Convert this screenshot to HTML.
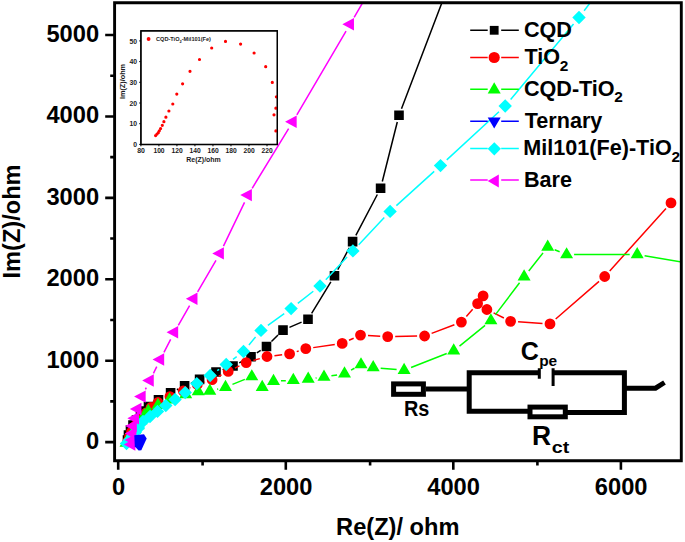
<!DOCTYPE html><html><head><meta charset="utf-8"><style>html,body{margin:0;padding:0;background:#fff;}svg{display:block;}text{font-family:"Liberation Sans",sans-serif;font-weight:bold;}</style></head><body>
<svg width="685" height="542" viewBox="0 0 685 542">
<rect width="685" height="542" fill="#fff"/>
<defs><clipPath id="pc"><rect x="116" y="4" width="564" height="456"/></clipPath></defs>
<g clip-path="url(#pc)">
<path d="M176.88 389.71L178.32 388.99M191.02 383.12L193.18 382.18M205.98 376.52L209.62 374.88M222.6 369.67L226.4 368.33M239.23 362.81L244.77 359.99M256.83 352.93L260.67 350.37M271.46 341.57L278.04 335.03M289.43 327.32L301.57 322.08M311.64 313.32L330.86 281.78M337.77 269.61L349.33 247.79M355.86 235.4L377.34 194.5M382.31 181.51L397.29 121.99M401.49 108.66L441.8 3" stroke="#000" stroke-width="1.5" fill="none"/>
<path d="M122.7 435.2h9.6v9.6h-9.6zM123.7 430.2h9.6v9.6h-9.6zM125.7 425.2h9.6v9.6h-9.6zM128.2 420.2h9.6v9.6h-9.6zM131.7 415.2h9.6v9.6h-9.6zM135.7 410.7h9.6v9.6h-9.6zM139.7 406.2h9.6v9.6h-9.6zM143.7 401.8h9.6v9.6h-9.6zM153.7 394.9h9.6v9.6h-9.6zM165.8 388h9.6v9.6h-9.6zM179.8 381.1h9.6v9.6h-9.6zM194.8 374.6h9.6v9.6h-9.6zM211.2 367.2h9.6v9.6h-9.6zM228.2 361.2h9.6v9.6h-9.6zM246.2 352h9.6v9.6h-9.6zM261.7 341.7h9.6v9.6h-9.6zM278.2 325.3h9.6v9.6h-9.6zM303.2 314.5h9.6v9.6h-9.6zM329.7 271h9.6v9.6h-9.6zM347.8 236.8h9.6v9.6h-9.6zM375.8 183.5h9.6v9.6h-9.6zM394.2 110.4h9.6v9.6h-9.6z" fill="#000"/>
<path d="M190.01 387.86L190.49 387.64M204.43 382.19L204.97 382.01M218.77 376.26L221.53 374.84M234.94 368.11L239.46 365.89M253.4 360.49L259.8 358.61M274.45 355.64L282.15 354.76M296.74 351.61L298.66 350.99M313.22 347.62L334.78 344.48M349.03 340.3L353.67 338.2M367.99 335.51L380.21 336.19M395.2 336.48L417.1 336.12M431.62 333.35L454.38 324.75M466.34 316.46L472.66 309.24M493.61 312.84L503.89 317.96M518.08 321.79L542.52 323.41M555.67 318.99L599.03 281.41M609.72 270.93L665.98 208.47" stroke="#f00" stroke-width="1.5" fill="none"/>
<path d="M122.6 441a5.4 5.4 0 1 0 10.8 0a5.4 5.4 0 1 0 -10.8 0zM124.1 436.5a5.4 5.4 0 1 0 10.8 0a5.4 5.4 0 1 0 -10.8 0zM126.1 432a5.4 5.4 0 1 0 10.8 0a5.4 5.4 0 1 0 -10.8 0zM128.6 427a5.4 5.4 0 1 0 10.8 0a5.4 5.4 0 1 0 -10.8 0zM132.1 422.5a5.4 5.4 0 1 0 10.8 0a5.4 5.4 0 1 0 -10.8 0zM136.1 418a5.4 5.4 0 1 0 10.8 0a5.4 5.4 0 1 0 -10.8 0zM140.6 413a5.4 5.4 0 1 0 10.8 0a5.4 5.4 0 1 0 -10.8 0zM145.6 407.5a5.4 5.4 0 1 0 10.8 0a5.4 5.4 0 1 0 -10.8 0zM152.6 402.5a5.4 5.4 0 1 0 10.8 0a5.4 5.4 0 1 0 -10.8 0zM164.5 396.6a5.4 5.4 0 1 0 10.8 0a5.4 5.4 0 1 0 -10.8 0zM177.8 391a5.4 5.4 0 1 0 10.8 0a5.4 5.4 0 1 0 -10.8 0zM191.9 384.5a5.4 5.4 0 1 0 10.8 0a5.4 5.4 0 1 0 -10.8 0zM206.7 379.7a5.4 5.4 0 1 0 10.8 0a5.4 5.4 0 1 0 -10.8 0zM222.8 371.4a5.4 5.4 0 1 0 10.8 0a5.4 5.4 0 1 0 -10.8 0zM240.8 362.6a5.4 5.4 0 1 0 10.8 0a5.4 5.4 0 1 0 -10.8 0zM261.6 356.5a5.4 5.4 0 1 0 10.8 0a5.4 5.4 0 1 0 -10.8 0zM284.2 353.9a5.4 5.4 0 1 0 10.8 0a5.4 5.4 0 1 0 -10.8 0zM300.4 348.7a5.4 5.4 0 1 0 10.8 0a5.4 5.4 0 1 0 -10.8 0zM336.8 343.4a5.4 5.4 0 1 0 10.8 0a5.4 5.4 0 1 0 -10.8 0zM355.1 335.1a5.4 5.4 0 1 0 10.8 0a5.4 5.4 0 1 0 -10.8 0zM382.3 336.6a5.4 5.4 0 1 0 10.8 0a5.4 5.4 0 1 0 -10.8 0zM419.2 336a5.4 5.4 0 1 0 10.8 0a5.4 5.4 0 1 0 -10.8 0zM456 322.1a5.4 5.4 0 1 0 10.8 0a5.4 5.4 0 1 0 -10.8 0zM472.2 303.6a5.4 5.4 0 1 0 10.8 0a5.4 5.4 0 1 0 -10.8 0zM477.7 295.9a5.4 5.4 0 1 0 10.8 0a5.4 5.4 0 1 0 -10.8 0zM481.5 309.5a5.4 5.4 0 1 0 10.8 0a5.4 5.4 0 1 0 -10.8 0zM505.2 321.3a5.4 5.4 0 1 0 10.8 0a5.4 5.4 0 1 0 -10.8 0zM544.6 323.9a5.4 5.4 0 1 0 10.8 0a5.4 5.4 0 1 0 -10.8 0zM599.3 276.5a5.4 5.4 0 1 0 10.8 0a5.4 5.4 0 1 0 -10.8 0zM665.6 202.9a5.4 5.4 0 1 0 10.8 0a5.4 5.4 0 1 0 -10.8 0z" fill="#f00"/>
<path d="M176.64 397.41L178.56 396.79M217.1 389.18L218.2 388.92M232.46 384.4L244.84 379.4M280.99 380.86L285.81 380.64M315.64 378.06L316.56 377.94M331.41 375.84L337.09 374.96M351.05 370.15L354.45 368.25M380.67 368.15L396.63 369.55M411.08 367.47L446.72 353.53M459.52 346.07L485.08 325.33M495.43 314.62L519.57 282.78M528.76 270.92L543.04 252.88M554.66 249.8L559.64 251.8M574.1 254.59L629.7 254.51M644.59 255.75L681.5 262" stroke="#0f0" stroke-width="1.5" fill="none"/>
<path d="M126 435.53L119.5 446.73L132.5 446.73zM128 432.03L121.5 443.23L134.5 443.23zM131 427.53L124.5 438.73L137.5 438.73zM134.5 422.53L128 433.73L141 433.73zM138 418.03L131.5 429.23L144.5 429.23zM141 413.03L134.5 424.23L147.5 424.23zM144.4 408.03L137.9 419.23L150.9 419.23zM148.3 403.73L141.8 414.93L154.8 414.93zM158 397.73L151.5 408.93L164.5 408.93zM169.5 392.23L163 403.43L176 403.43zM185.7 387.03L179.2 398.23L192.2 398.23zM198.2 384.03L191.7 395.23L204.7 395.23zM209.8 383.43L203.3 394.63L216.3 394.63zM225.5 379.73L219 390.93L232 390.93zM251.8 369.13L245.3 380.33L258.3 380.33zM262.2 379.73L255.7 390.93L268.7 390.93zM273.5 373.73L267 384.93L280 384.93zM293.3 372.83L286.8 384.03L299.8 384.03zM308.2 371.53L301.7 382.73L314.7 382.73zM324 369.53L317.5 380.73L330.5 380.73zM344.5 366.33L338 377.53L351 377.53zM361 357.13L354.5 368.33L367.5 368.33zM373.2 360.03L366.7 371.23L379.7 371.23zM404.1 362.73L397.6 373.93L410.6 373.93zM453.7 343.33L447.2 354.53L460.2 354.53zM490.9 313.13L484.4 324.33L497.4 324.33zM524.1 269.33L517.6 280.53L530.6 280.53zM547.7 239.53L541.2 250.73L554.2 250.73zM566.6 247.13L560.1 258.33L573.1 258.33zM637.2 247.03L630.7 258.23L643.7 258.23z" fill="#0f0"/>
<path d="M217.2 370.68L219.2 369.32M233 359.39L236.7 356.61M248.93 344.96L255.57 336.94M267.88 325.41L284.22 313.59M297.8 303.36L313.3 291.24M325.81 279.8L347.09 257.1M358.73 244.71L384.27 217.59M396.39 205.68L434.21 171.32M446.75 159.84L498.95 111.76M510.64 99.47L573.56 24.03M584.14 10.73L590 3" stroke="#0ff" stroke-width="1.5" fill="none"/>
<path d="M126.5 436.8L133.2 443.5L126.5 450.2L119.8 443.5zM129.5 433.3L136.2 440L129.5 446.7L122.8 440zM132.5 429.3L139.2 436L132.5 442.7L125.8 436zM135.5 425.3L142.2 432L135.5 438.7L128.8 432zM138.5 421.3L145.2 428L138.5 434.7L131.8 428zM143 414.8L149.7 421.5L143 428.2L136.3 421.5zM150 409.8L156.7 416.5L150 423.2L143.3 416.5zM157.5 404.7L164.2 411.4L157.5 418.1L150.8 411.4zM165.8 398.9L172.5 405.6L165.8 412.3L159.1 405.6zM175.1 392.8L181.8 399.5L175.1 406.2L168.4 399.5zM185.2 385.9L191.9 392.6L185.2 399.3L178.5 392.6zM196.8 376.9L203.5 383.6L196.8 390.3L190.1 383.6zM210.2 368.8L216.9 375.5L210.2 382.2L203.5 375.5zM226.2 357.8L232.9 364.5L226.2 371.2L219.5 364.5zM243.5 344.8L250.2 351.5L243.5 358.2L236.8 351.5zM261 323.7L267.7 330.4L261 337.1L254.3 330.4zM291.1 301.9L297.8 308.6L291.1 315.3L284.4 308.6zM320 279.3L326.7 286L320 292.7L313.3 286zM352.9 244.2L359.6 250.9L352.9 257.6L346.2 250.9zM390.1 204.7L396.8 211.4L390.1 218.1L383.4 211.4zM440.5 158.9L447.2 165.6L440.5 172.3L433.8 165.6zM505.2 99.3L511.9 106L505.2 112.7L498.5 106zM579 10.8L585.7 17.5L579 24.2L572.3 17.5z" fill="#0ff"/>
<path d="M145.4 389.45L146.3 387.65M153.45 373.33L156.75 366.67M163.95 352.38L170.65 339.32M178.3 325.27L189.6 305.73M197.62 291.88L215.98 260.32M223.46 246.19L244.54 202.31M252.17 188.27L288.63 128.63M296.85 114.9L346.05 31.1M354.14 17.29L362.5 3" stroke="#f0f" stroke-width="1.5" fill="none"/>
<path d="M123.77 444.5L135.37 438.3L135.37 450.7zM124.57 440L136.17 433.8L136.17 446.2zM124.77 433.5L136.37 427.3L136.37 439.7zM125.27 426L136.87 419.8L136.87 432.2zM127.37 418.2L138.97 412L138.97 424.4zM129.87 409L141.47 402.8L141.47 415.2zM134.07 396.6L145.67 390.4L145.67 402.8zM142.17 380.5L153.77 374.3L153.77 386.7zM152.57 359.5L164.17 353.3L164.17 365.7zM166.57 332.2L178.17 326L178.17 338.4zM185.87 298.8L197.47 292.6L197.47 305zM212.27 253.4L223.87 247.2L223.87 259.6zM240.27 195.1L251.87 188.9L251.87 201.3zM285.07 121.8L296.67 115.6L296.67 128zM342.37 24.2L353.97 18L353.97 30.4z" fill="#f0f"/>
<path d="M134.3 435.2L144 434.3L146.7 438.6L141.3 450.2L138.6 450.6L134.8 446.5Z" fill="#00f"/>
</g>
<path d="M114.6 2.7H681.3V460.7H114.6Z" fill="none" stroke="#000" stroke-width="2.9"/>
<path d="M105.2 442.1H114M105.2 360.7H114M105.2 279.3H114M105.2 197.9H114M105.2 116.5H114M105.2 35H114M110.2 401.39H114M110.2 319.97H114M110.2 238.55H114M110.2 157.13H114M110.2 75.71H114M118.2 461V469.8M285.8 461V469.8M453.3 461V469.8M620.9 461V469.8M202.6 461V465.6M370.1 461V465.6M537.4 461V465.6" stroke="#000" stroke-width="2.6" fill="none"/>
<text x="99.1" y="449" font-size="23.7" text-anchor="end">0</text>
<text x="99.1" y="367.6" font-size="23.7" text-anchor="end">1000</text>
<text x="99.1" y="286.2" font-size="23.7" text-anchor="end">2000</text>
<text x="99.1" y="204.8" font-size="23.7" text-anchor="end">3000</text>
<text x="99.1" y="123.4" font-size="23.7" text-anchor="end">4000</text>
<text x="99.1" y="41.9" font-size="23.7" text-anchor="end">5000</text>
<text x="118.5" y="494.95" font-size="23.7" text-anchor="middle">0</text>
<text x="286.1" y="494.95" font-size="23.7" text-anchor="middle">2000</text>
<text x="453.6" y="494.95" font-size="23.7" text-anchor="middle">4000</text>
<text x="621.2" y="494.95" font-size="23.7" text-anchor="middle">6000</text>
<text x="336.1" y="535.3" font-size="23.6" textLength="123.4" lengthAdjust="spacingAndGlyphs">Re(Z)/ ohm</text>
<text transform="translate(19.5 278.5) rotate(-90)" font-size="23.6">Im(Z)/ohm</text>
<path d="M470.2 30.3H487.7M501.2 30.3H518.8" stroke="#000" stroke-width="1.5"/>
<path d="M489.8 25.9h8.8v8.8h-8.8z" fill="#000"/>
<path d="M470.2 57.5H487.7M501.2 57.5H518.8" stroke="#f00" stroke-width="1.5"/>
<path d="M488.6 57.5a5.6 5.6 0 1 0 11.2 0a5.6 5.6 0 1 0 -11.2 0z" fill="#f00"/>
<path d="M470.2 89.2H487.7M501.2 89.2H518.8" stroke="#0f0" stroke-width="1.5"/>
<path d="M494.2 82.2L487.7 93.6L500.7 93.6z" fill="#0f0"/>
<path d="M470.2 121.2H487.7M501.2 121.2H518.8" stroke="#00f" stroke-width="1.5"/>
<path d="M494.2 128.53L487.7 117.53L500.7 117.53z" fill="#00f"/>
<path d="M470.2 148.5H487.7M501.2 148.5H518.8" stroke="#0ff" stroke-width="1.5"/>
<path d="M494.3 142.15L500.95 148.8L494.3 155.45L487.65 148.8z" fill="#0ff"/>
<path d="M470.2 180.1H487.7M501.2 180.1H518.8" stroke="#f0f" stroke-width="1.5"/>
<path d="M487.7 181.1L498.8 174.6L498.8 187.6z" fill="#f0f"/>
<text x="523.9" y="37.1" font-size="21.6">CQD</text>
<text x="524.5" y="64.4" font-size="21.6">TiO</text>
<text x="559.7" y="70.5" font-size="15.4">2</text>
<text x="523.9" y="96.4" font-size="21.6">CQD-TiO</text>
<text x="614.3" y="101.9" font-size="15.4">2</text>
<text x="524.7" y="127.8" font-size="21.6">Ternary</text>
<text x="523.3" y="154.7" font-size="21.6">Mil101(Fe)-TiO</text>
<text x="671.4" y="161.6" font-size="15.4">2</text>
<text x="523.9" y="186.8" font-size="21.6">Bare</text>
<rect x="140.9" y="30.85" width="136.45" height="113.65" fill="#fff" stroke="#000" stroke-width="1.3"/>
<path d="M139.2 144.4H140.9M139.2 123.7H140.9M139.2 103H140.9M139.2 82.3H140.9M139.2 61.6H140.9M139.2 40.9H140.9M140.9 144.5V146.3M158.91 144.5V146.3M176.93 144.5V146.3M194.94 144.5V146.3M212.96 144.5V146.3M230.97 144.5V146.3M248.98 144.5V146.3M267 144.5V146.3" stroke="#000" stroke-width="1"/>
<text x="137.1" y="147" font-size="7.4" fill="#1a1a22" text-anchor="end" textLength="3.8" lengthAdjust="spacingAndGlyphs">0</text>
<text x="137.1" y="126.3" font-size="7.4" fill="#1a1a22" text-anchor="end" textLength="7.6" lengthAdjust="spacingAndGlyphs">10</text>
<text x="137.1" y="105.6" font-size="7.4" fill="#1a1a22" text-anchor="end" textLength="7.6" lengthAdjust="spacingAndGlyphs">20</text>
<text x="137.1" y="84.9" font-size="7.4" fill="#1a1a22" text-anchor="end" textLength="7.6" lengthAdjust="spacingAndGlyphs">30</text>
<text x="137.1" y="64.2" font-size="7.4" fill="#1a1a22" text-anchor="end" textLength="7.6" lengthAdjust="spacingAndGlyphs">40</text>
<text x="137.1" y="43.5" font-size="7.4" fill="#1a1a22" text-anchor="end" textLength="7.6" lengthAdjust="spacingAndGlyphs">50</text>
<text x="141" y="153" font-size="7.5" fill="#1a1a22" text-anchor="middle" textLength="7.7" lengthAdjust="spacingAndGlyphs">80</text>
<text x="159.01" y="153" font-size="7.5" fill="#1a1a22" text-anchor="middle" textLength="11.2" lengthAdjust="spacingAndGlyphs">100</text>
<text x="177.03" y="153" font-size="7.5" fill="#1a1a22" text-anchor="middle" textLength="11.2" lengthAdjust="spacingAndGlyphs">120</text>
<text x="195.04" y="153" font-size="7.5" fill="#1a1a22" text-anchor="middle" textLength="11.2" lengthAdjust="spacingAndGlyphs">140</text>
<text x="213.06" y="153" font-size="7.5" fill="#1a1a22" text-anchor="middle" textLength="11.2" lengthAdjust="spacingAndGlyphs">160</text>
<text x="231.07" y="153" font-size="7.5" fill="#1a1a22" text-anchor="middle" textLength="11.2" lengthAdjust="spacingAndGlyphs">180</text>
<text x="249.08" y="153" font-size="7.5" fill="#1a1a22" text-anchor="middle" textLength="11.2" lengthAdjust="spacingAndGlyphs">200</text>
<text x="267.1" y="153" font-size="7.5" fill="#1a1a22" text-anchor="middle" textLength="11.2" lengthAdjust="spacingAndGlyphs">220</text>
<text x="186.3" y="162.4" font-size="7.6" fill="#1a1a22" textLength="34.5" lengthAdjust="spacingAndGlyphs">Re(Z)/ohm</text>
<text transform="translate(125.4 99) rotate(-90)" font-size="7.4" fill="#1a1a22" textLength="35" lengthAdjust="spacingAndGlyphs">Im(Z)/ohm</text>
<circle cx="148.6" cy="39" r="1.9" fill="#f00"/>
<text x="156" y="41.2" font-size="5.6" fill="#222">CQD-TiO<tspan font-size="4" dy="1.5">2</tspan><tspan dy="-1.5">-Mil101(Fe)</tspan></text>
<path d="M154 135.6a1.6 1.6 0 1 0 3.2 0a1.6 1.6 0 1 0 -3.2 0zM155.4 134.1a1.6 1.6 0 1 0 3.2 0a1.6 1.6 0 1 0 -3.2 0zM156.7 132.7a1.6 1.6 0 1 0 3.2 0a1.6 1.6 0 1 0 -3.2 0zM157.7 130.8a1.6 1.6 0 1 0 3.2 0a1.6 1.6 0 1 0 -3.2 0zM159 128.6a1.6 1.6 0 1 0 3.2 0a1.6 1.6 0 1 0 -3.2 0zM160.7 125.3a1.6 1.6 0 1 0 3.2 0a1.6 1.6 0 1 0 -3.2 0zM162.3 121.7a1.6 1.6 0 1 0 3.2 0a1.6 1.6 0 1 0 -3.2 0zM164.3 117.2a1.6 1.6 0 1 0 3.2 0a1.6 1.6 0 1 0 -3.2 0zM167.3 111a1.6 1.6 0 1 0 3.2 0a1.6 1.6 0 1 0 -3.2 0zM171.2 104a1.6 1.6 0 1 0 3.2 0a1.6 1.6 0 1 0 -3.2 0zM175.2 94.1a1.6 1.6 0 1 0 3.2 0a1.6 1.6 0 1 0 -3.2 0zM181 83.8a1.6 1.6 0 1 0 3.2 0a1.6 1.6 0 1 0 -3.2 0zM188.4 71.3a1.6 1.6 0 1 0 3.2 0a1.6 1.6 0 1 0 -3.2 0zM197.9 59.5a1.6 1.6 0 1 0 3.2 0a1.6 1.6 0 1 0 -3.2 0zM210.1 48a1.6 1.6 0 1 0 3.2 0a1.6 1.6 0 1 0 -3.2 0zM223.9 41.4a1.6 1.6 0 1 0 3.2 0a1.6 1.6 0 1 0 -3.2 0zM239 44.1a1.6 1.6 0 1 0 3.2 0a1.6 1.6 0 1 0 -3.2 0zM252.5 53a1.6 1.6 0 1 0 3.2 0a1.6 1.6 0 1 0 -3.2 0zM264.1 66.7a1.6 1.6 0 1 0 3.2 0a1.6 1.6 0 1 0 -3.2 0zM270.7 82.4a1.6 1.6 0 1 0 3.2 0a1.6 1.6 0 1 0 -3.2 0zM274.8 96.8a1.6 1.6 0 1 0 3.2 0a1.6 1.6 0 1 0 -3.2 0zM274.3 108.2a1.6 1.6 0 1 0 3.2 0a1.6 1.6 0 1 0 -3.2 0zM272.4 114.8a1.6 1.6 0 1 0 3.2 0a1.6 1.6 0 1 0 -3.2 0zM274.3 130.9a1.6 1.6 0 1 0 3.2 0a1.6 1.6 0 1 0 -3.2 0z" fill="#f00"/>
<rect x="140.9" y="30.85" width="136.45" height="113.65" fill="none" stroke="#000" stroke-width="1.3"/>
<rect x="393.6" y="383.9" width="29.8" height="10.4" stroke="#000" stroke-width="5" fill="none"/>
<path d="M425.9 389.1H469.3" stroke="#000" stroke-width="5" fill="none"/>
<path d="M538.6 372.8H469.2V411.2H530" stroke="#000" stroke-width="5" fill="none" stroke-linejoin="miter"/>
<path d="M553.2 372.8H624.4V412.5H565.3" stroke="#000" stroke-width="5" fill="none" stroke-linejoin="miter"/>
<rect x="530" y="407.1" width="35.3" height="9.7" stroke="#000" stroke-width="5" fill="none"/>
<path d="M539.3 368.3V378.7M553.1 368.3V386" stroke="#000" stroke-width="3" fill="none"/>
<path d="M624 388.2H655.5L664.5 382.5" stroke="#000" stroke-width="5" fill="none" stroke-linejoin="miter"/>
<text x="404" y="415.9" font-size="21.4" textLength="25.4" lengthAdjust="spacingAndGlyphs">Rs</text>
<text x="520.7" y="360.3" font-size="25">C</text>
<text x="539.2" y="365.9" font-size="14.6" textLength="18" lengthAdjust="spacingAndGlyphs">pe</text>
<text x="531.9" y="444.9" font-size="28.4" textLength="19.1" lengthAdjust="spacingAndGlyphs">R</text>
<text x="551.8" y="452.5" font-size="15.9" textLength="17.5" lengthAdjust="spacingAndGlyphs">ct</text>
</svg></body></html>
